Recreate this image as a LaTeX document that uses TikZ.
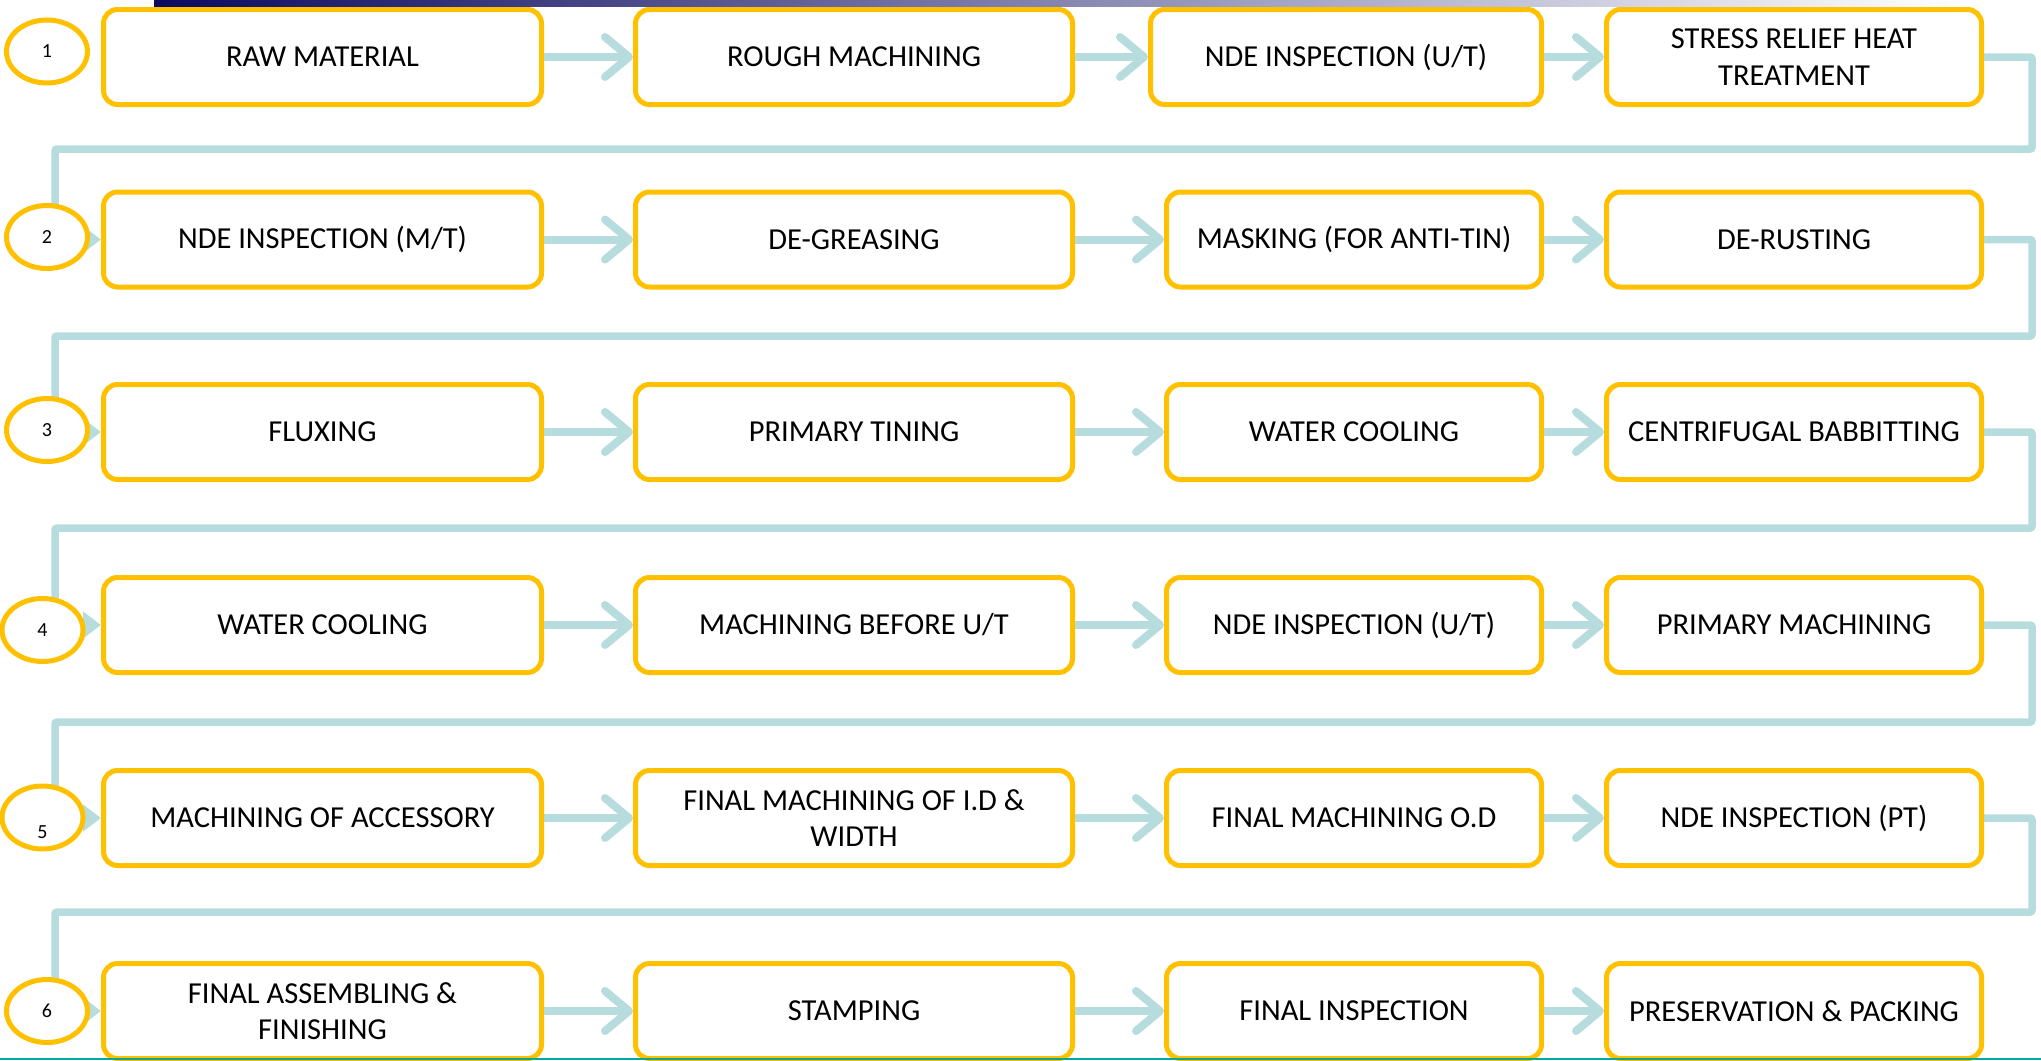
\documentclass[tikz,border=0pt]{standalone}
\usepackage{fontspec}
\setmainfont{Carlito}
\usetikzlibrary{arrows.meta,shapes.geometric}
\definecolor{boxc}{HTML}{FFC000}
\definecolor{linec}{RGB}{182,220,222}
\definecolor{navyc}{RGB}{10,10,95}
\definecolor{tealc}{RGB}{0,168,158}
\newcommand\bxfont{\fontsize{30.5}{36.5}\selectfont}
\newcommand\numfont{\fontsize{20}{24}\selectfont}
\begin{document}
\begin{tikzpicture}[x=1pt,y=1pt,
 stepbox/.style={draw=boxc, line width=5pt, rounded corners=14pt, fill=white, minimum height=95pt, inner sep=0pt, align=center, font=\bxfont, text=black},
 colA/.style={stepbox, minimum width=438pt},
 colB/.style={stepbox, minimum width=437pt},
 colC/.style={stepbox, minimum width=375pt},
 colD/.style={stepbox, minimum width=375pt},
 numc/.style={ellipse, draw=boxc, line width=5pt, fill=white, minimum width=81pt, minimum height=63pt, inner sep=0pt, font=\numfont},
 numt/.style={font=\numfont, inner sep=0pt},
 flow/.style={draw=linec, line width=8pt, -{Straight Barb[length=24pt,width=40pt,round]}},
 link/.style={draw=linec, line width=7.5pt, rounded corners=2pt, -{Triangle[length=18pt,width=26pt]}}
]
\useasboundingbox (0,0) rectangle (2041,-1060);
\shade[left color=navyc, right color=white] (154,0) rectangle (1950,-6.5);

% row 1
\node[colA] (r1c1) at (322.5,-57) {RAW MATERIAL};
\node[colB] (r1c2) at (854,-57) {ROUGH MACHINING};
\node[colC, minimum width=391pt] (r1c3) at (1346,-57) {NDE INSPECTION (U/T)};
\node[colD] (r1c4) at (1794,-57) {STRESS RELIEF HEAT\\TREATMENT};
% row 2
\node[colA] (r2c1) at (322.5,-239.5) {NDE INSPECTION (M/T)};
\node[colB] (r2c2) at (854,-239.5) {DE-GREASING};
\node[colC] (r2c3) at (1354,-239.5) {MASKING (FOR ANTI-TIN)};
\node[colD] (r2c4) at (1794,-239.5) {DE-RUSTING};
% row 3
\node[colA] (r3c1) at (322.5,-432) {FLUXING};
\node[colB] (r3c2) at (854,-432) {PRIMARY TINING};
\node[colC] (r3c3) at (1354,-432) {WATER COOLING};
\node[colD] (r3c4) at (1794,-432) {CENTRIFUGAL BABBITTING};
% row 4
\node[colA] (r4c1) at (322.5,-625) {WATER COOLING};
\node[colB] (r4c2) at (854,-625) {MACHINING BEFORE U/T};
\node[colC] (r4c3) at (1354,-625) {NDE INSPECTION (U/T)};
\node[colD] (r4c4) at (1794,-625) {PRIMARY MACHINING};
% row 5
\node[colA] (r5c1) at (322.5,-818) {MACHINING OF ACCESSORY};
\node[colB] (r5c2) at (854,-818) {FINAL MACHINING OF I.D \&\\WIDTH};
\node[colC] (r5c3) at (1354,-818) {FINAL MACHINING O.D};
\node[colD] (r5c4) at (1794,-818) {NDE INSPECTION (PT)};
% row 6
\node[colA] (r6c1) at (322.5,-1011) {FINAL ASSEMBLING \&\\FINISHING};
\node[colB] (r6c2) at (854,-1011) {STAMPING};
\node[colC] (r6c3) at (1354,-1011) {FINAL INSPECTION};
\node[colD] (r6c4) at (1794,-1011) {PRESERVATION \& PACKING};

% arrows within rows
\foreach \r in {1,...,6}{
  \draw[flow] (r\r c1.east) -- (r\r c2.west);
  \draw[flow] (r\r c2.east) -- (r\r c3.west);
  \draw[flow] (r\r c3.east) -- (r\r c4.west);
}

% row-to-row connectors
\coordinate (k1) at (2032,-149);  \coordinate (m2) at (55,-239.5);
\coordinate (k2) at (2032,-336);  \coordinate (m3) at (55,-432);
\coordinate (k3) at (2032,-528);  \coordinate (m4) at (55,-625);
\coordinate (k4) at (2032,-722);  \coordinate (m5) at (55,-818);
\coordinate (k5) at (2032,-912);  \coordinate (m6) at (55,-1011);
\draw[link] (r1c4.east) -| (k1) -| (m2) -- (r2c1.west);
\draw[link] (r2c4.east) -| (k2) -| (m3) -- (r3c1.west);
\draw[link] (r3c4.east) -| (k3) -| (m4) -- (r4c1.west);
\draw[link] (r4c4.east) -| (k4) -| (m5) -- (r5c1.west);
\draw[link] (r5c4.east) -| (k5) -| (m6) -- (r6c1.west);

% number ellipses
\node[numc] (n1) at (47,-51.5) {1};
\node[numc] (n2) at (47,-237) {2};
\node[numc] (n3) at (47,-430) {3};
\node[numc] (n4) at (42.5,-630) {4};
\node[numc] (n5) at (42.5,-817.5) {};
\node[numt] (n5t) at (42.5,-832) {5};
\node[numc] (n6) at (47,-1011) {6};

\draw[tealc, line width=2.5pt] (0,-1058.8) -- (2041,-1058.8);
\end{tikzpicture}
\end{document}
